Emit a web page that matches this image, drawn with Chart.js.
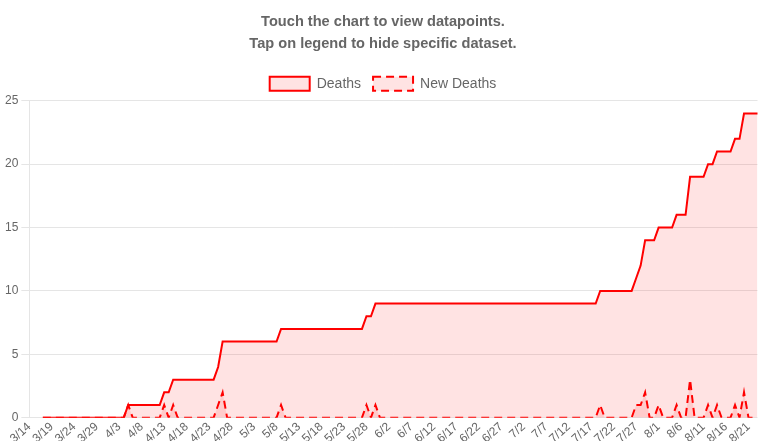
<!DOCTYPE html>
<html>
<head>
<meta charset="utf-8">
<script src="https://cdn.jsdelivr.net/npm/chart.js@4/dist/chart.umd.min.js"></script>
<style>
  html, body { margin: 0; padding: 0; background: #fff; }
  #wrap { width: 766px; height: 441px; }
</style>
</head>
<body>
<div id="wrap"><canvas id="c" width="766" height="441"></canvas></div>
<script>
const titleLines = ['Touch the chart to view datapoints.', 'Tap on legend to hide specific dataset.'];
const seriesNames = ['Deaths', 'New Deaths'];
const yTicks = [0, 5, 10, 15, 20, 25];

const dates = [
  '3/14','3/15','3/16','3/17','3/18','3/19','3/20','3/21','3/22','3/23',
  '3/24','3/25','3/26','3/27','3/28','3/29','3/30','3/31','4/1','4/2',
  '4/3','4/4','4/5','4/6','4/7','4/8','4/9','4/10','4/11','4/12',
  '4/13','4/14','4/15','4/16','4/17','4/18','4/19','4/20','4/21','4/22',
  '4/23','4/24','4/25','4/26','4/27','4/28','4/29','4/30','5/1','5/2',
  '5/3','5/4','5/5','5/6','5/7','5/8','5/9','5/10','5/11','5/12',
  '5/13','5/14','5/15','5/16','5/17','5/18','5/19','5/20','5/21','5/22',
  '5/23','5/24','5/25','5/26','5/27','5/28','5/29','5/30','5/31','6/1',
  '6/2','6/3','6/4','6/5','6/6','6/7','6/8','6/9','6/10','6/11',
  '6/12','6/13','6/14','6/15','6/16','6/17','6/18','6/19','6/20','6/21',
  '6/22','6/23','6/24','6/25','6/26','6/27','6/28','6/29','6/30','7/1',
  '7/2','7/3','7/4','7/5','7/6','7/7','7/8','7/9','7/10','7/11',
  '7/12','7/13','7/14','7/15','7/16','7/17','7/18','7/19','7/20','7/21',
  '7/22','7/23','7/24','7/25','7/26','7/27','7/28','7/29','7/30','7/31',
  '8/1','8/2','8/3','8/4','8/5','8/6','8/7','8/8','8/9','8/10',
  '8/11','8/12','8/13','8/14','8/15','8/16','8/17','8/18','8/19','8/20',
  '8/21','8/22','8/23'
];

const deaths = [
  null,null,null,0,0,0,0,0,0,0,
  0,0,0,0,0,0,0,0,0,0,
  0,0,1,1,1,1,1,1,1,1,
  2,2,3,3,3,3,3,3,3,3,
  3,3,4,6,6,6,6,6,6,6,
  6,6,6,6,6,6,7,7,7,7,
  7,7,7,7,7,7,7,7,7,7,
  7,7,7,7,7,8,8,9,9,9,
  9,9,9,9,9,9,9,9,9,9,
  9,9,9,9,9,9,9,9,9,9,
  9,9,9,9,9,9,9,9,9,9,
  9,9,9,9,9,9,9,9,9,9,
  9,9,9,9,9,9,9,10,10,10,
  10,10,10,10,10,11,12,14,14,14,
  15,15,15,15,16,16,16,19,19,19,
  19,20,20,21,21,21,21,22,22,24,
  24,24,24
];

const newDeaths = [
  null,null,null,0,0,0,0,0,0,0,
  0,0,0,0,0,0,0,0,0,0,
  0,0,1,0,0,0,0,0,0,0,
  1,0,1,0,0,0,0,0,0,0,
  0,0,1,2,0,0,0,0,0,0,
  0,0,0,0,0,0,1,0,0,0,
  0,0,0,0,0,0,0,0,0,0,
  0,0,0,0,0,1,0,1,0,0,
  0,0,0,0,0,0,0,0,0,0,
  0,0,0,0,0,0,0,0,0,0,
  0,0,0,0,0,0,0,0,0,0,
  0,0,0,0,0,0,0,0,0,0,
  0,0,0,0,0,0,0,1,0,0,
  0,0,0,0,0,1,1,2,0,0,
  1,0,0,0,1,0,0,3,0,0,
  0,1,0,1,0,0,0,1,0,2,
  0,0,0
];

const FONT = "Arial, 'Liberation Sans', Helvetica, sans-serif";
Chart.defaults.font.family = FONT;
Chart.defaults.color = '#666';

new Chart(document.getElementById('c'), {
  type: 'line',
  data: {
    labels: dates,
    datasets: [
      {
        label: seriesNames[0],
        data: deaths,
        borderColor: 'rgb(255,0,0)',
        backgroundColor: 'rgba(255,0,0,0.11)',
        borderWidth: 2,
        fill: 'origin',
        pointRadius: 0,
        pointHoverRadius: 0,
        tension: 0
      },
      {
        label: seriesNames[1],
        data: newDeaths,
        borderColor: 'rgb(255,0,0)',
        backgroundColor: 'rgba(255,0,0,0.11)',
        borderWidth: 2,
        borderDash: [8, 5],
        fill: 'origin',
        pointRadius: 0,
        pointHoverRadius: 0,
        tension: 0
      }
    ]
  },
  options: {
    responsive: false,
    animation: false,
    events: [],
    layout: { padding: { left: 0, right: 0, top: 0, bottom: -7 } },
    plugins: {
      title: {
        display: true,
        text: titleLines,
        color: '#666',
        font: { size: 14.6, weight: 'bold', family: FONT, lineHeight: 1.5 },
        padding: { top: 11, bottom: 10 }
      },
      legend: {
        display: true,
        labels: {
          boxWidth: 40,
          boxHeight: 14,
          color: '#666',
          font: { size: 14, family: FONT },
          padding: 12
        }
      },
      tooltip: { enabled: false }
    },
    scales: {
      x: {
        grid: { display: false, drawTicks: false },
        border: { display: false },
        afterFit: function (scale) {
          scale.paddingRight = 8.5;
        },
        ticks: {
          autoSkip: false,
          maxRotation: 42,
          minRotation: 42,
          padding: 2,
          font: { size: 12, family: FONT },
          color: '#666',
          callback: function (value, index) {
            return index % 5 === 0 ? dates[index] : null;
          }
        }
      },
      y: {
        min: yTicks[0],
        max: yTicks[yTicks.length - 1],
        afterBuildTicks: function (scale) {
          scale.ticks = yTicks.map(function (v) { return { value: v }; });
        },
        afterFit: function (scale) {
          scale.width += 2;
        },
        grid: { color: 'rgba(0,0,0,0.1)', tickLength: 8 },
        border: { display: true, color: 'rgba(0,0,0,0.1)' },
        ticks: {
          padding: 3,
          font: { size: 12, family: FONT },
          color: '#666'
        }
      }
    }
  }
});
</script>
</body>
</html>
